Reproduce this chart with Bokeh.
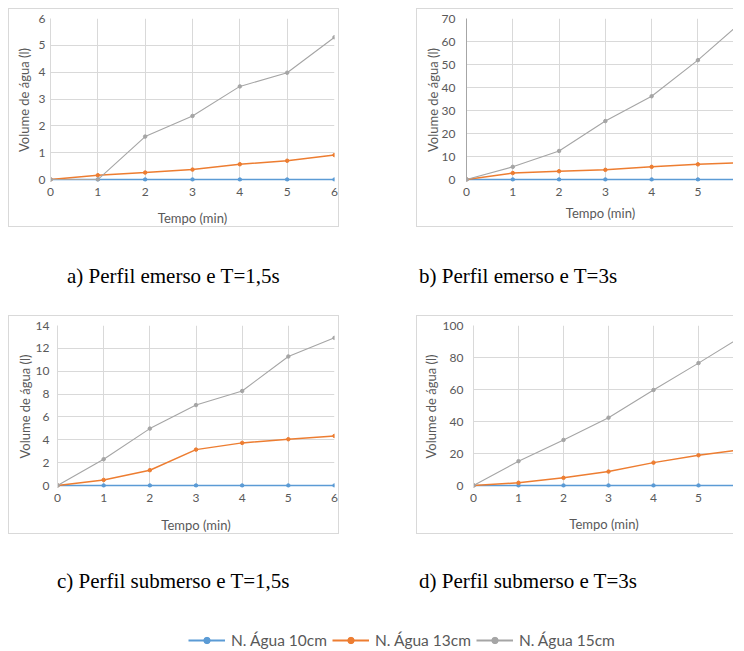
from bokeh.plotting import figure
from bokeh.layouts import column, row
from bokeh.models import Range1d, FixedTicker, Div, Spacer, Legend, LegendItem
from bokeh.embed import file_html
from bokeh.resources import INLINE

# ---------------- data ----------------
tempo = [0, 1, 2, 3, 4, 5, 6]
series_names = ["N. Água 10cm", "N. Água 13cm", "N. Água 15cm"]
series_colors = ["#5B9BD5", "#ED7D31", "#A5A5A5"]
series_widths = [1.5, 1.5, 1.1]

a_10 = [0, 0, 0, 0, 0, 0, 0]
a_13 = [0, 0.16, 0.26, 0.37, 0.57, 0.70, 0.91]
a_15 = [0, 0.0, 1.60, 2.37, 3.47, 3.98, 5.30]

b_10 = [0, 0, 0, 0, 0, 0, 0]
b_13 = [0, 2.8, 3.6, 4.2, 5.5, 6.6, 7.4]
b_15 = [0, 5.5, 12.4, 25.4, 36.2, 51.9, 69.5]

c_10 = [0, 0, 0, 0, 0, 0, 0]
c_13 = [0, 0.49, 1.34, 3.14, 3.73, 4.05, 4.34]
c_15 = [0, 2.30, 4.98, 7.04, 8.27, 11.29, 12.92]

d_10 = [0, 0, 0, 0, 0, 0, 0]
d_13 = [0, 1.7, 4.8, 8.7, 14.3, 18.9, 22.6]
d_15 = [0, 15.2, 28.5, 42.4, 59.7, 76.5, 93.8]

a_yticks = [0, 1, 2, 3, 4, 5, 6]
b_yticks = [0, 10, 20, 30, 40, 50, 60, 70]
c_yticks = [0, 2, 4, 6, 8, 10, 12, 14]
d_yticks = [0, 20, 40, 60, 80, 100]
x_ticks = [0, 1, 2, 3, 4, 5, 6]

captions = ["a) Perfil emerso e T=1,5s", "b) Perfil emerso e T=3s",
            "c) Perfil submerso e T=1,5s", "d) Perfil submerso e T=3s"]
x_title = "Tempo (min)"
y_title = "Volume de água (l)"

TXT = "#595959"
GRID = "#D9D9D9"
FONT = "Lato"
H = 219  # inner height (plus 1px border top and bottom = 221)


def panel(ys, yticks, width, x_end, left, right, top, bottom,
          lab_so, title_so, x_title_so, yaxis_color=GRID, right_border=True):
    y_end = yticks[-1]
    frame_h = H - top - bottom
    pad = 2.0 * y_end / (frame_h - 2)
    styles = {"border": "1px solid #D9D9D9"}
    if not right_border:
        styles["border-right"] = "none"
    p = figure(width=width, height=H, output_backend="svg", toolbar_location=None,
               x_range=Range1d(0, x_end), y_range=Range1d(-pad, y_end),
               min_border_left=left, min_border_right=right,
               min_border_top=top, min_border_bottom=bottom,
               styles=styles, margin=0)
    p.outline_line_color = None
    p.background_fill_color = "white"
    p.border_fill_color = "white"
    p.xaxis.ticker = FixedTicker(ticks=x_ticks)
    p.yaxis.ticker = FixedTicker(ticks=yticks)
    p.xgrid.ticker = FixedTicker(ticks=x_ticks)
    p.ygrid.ticker = FixedTicker(ticks=yticks)
    p.xgrid.grid_line_color = GRID
    p.ygrid.grid_line_color = GRID
    for ax in (p.xaxis[0], p.yaxis[0]):
        ax.major_tick_line_color = None
        ax.minor_tick_line_color = None
        ax.major_tick_out = 0
        ax.major_tick_in = 0
        ax.major_label_text_font = FONT
        ax.major_label_text_font_size = "12px"
        ax.major_label_text_color = TXT
        ax.major_label_text_line_height = 1.0
        ax.axis_label_text_font = FONT
        ax.axis_label_text_font_size = "13px"
        ax.axis_label_text_color = TXT
        ax.axis_label_text_font_style = "normal"
        ax.axis_label_text_line_height = 1.0
    p.xaxis.axis_line_color = None
    p.yaxis.axis_line_color = yaxis_color
    p.xaxis.axis_label = x_title
    p.yaxis.axis_label = y_title
    p.yaxis.major_label_standoff = lab_so
    p.yaxis.axis_label_standoff = title_so
    p.xaxis.major_label_standoff = 6
    p.xaxis.axis_label_standoff = x_title_so
    for y, col, lw in zip(ys, series_colors, series_widths):
        p.line(tempo, y, line_color=col, line_width=lw)
        p.scatter(tempo, y, size=3.5, fill_color=col, line_color=col)
    return p


pa = panel([a_10, a_13, a_15], a_yticks, 331, 6, 41, 6, 6, 47, 5, 4, 11)
pb = panel([b_10, b_13, b_15], b_yticks, 317, 5.79, 49, 0, 9, 47, 11, -2, 6,
           yaxis_color="#A6A6A6", right_border=False)
pc = panel([c_10, c_13, c_15], c_yticks, 331, 6, 48, 6, 9, 47, 8, 0, 12)
pd = panel([d_10, d_13, d_15], d_yticks, 317, 5.8, 56, 0, 9, 47, 10, 1, 11,
           right_border=False)


def caption(txt, width, height, pl, pt):
    html = ('<div style="padding-left:%dpx;padding-top:%dpx;'
            'font-family:\'Liberation Serif\',\'Times New Roman\',serif;'
            'font-size:21px;line-height:24px;'
            'color:#000;white-space:nowrap">%s</div>' % (pl, pt, txt))
    return Div(text=html, width=width, height=height, margin=0)


cap_row1 = row(caption(captions[0], 410, 86, 59, 35),
               caption(captions[1], 318, 86, 1, 35))
cap_row2 = row(caption(captions[2], 410, 85, 49, 33),
               caption(captions[3], 318, 85, 1, 33))

# legend-only figure (its renderers sit outside the visible ranges; only the
# legend entries are seen)
leg = figure(width=548, height=28, output_backend="svg", toolbar_location=None,
             x_range=Range1d(-3, -2), y_range=Range1d(-3, -2),
             min_border=0, margin=0)
leg.axis.visible = False
leg.grid.visible = False
leg.outline_line_color = None
items = []
for name, col, ys in zip(series_names, series_colors, [a_10, a_13, a_15]):
    r1 = leg.line(tempo, ys, line_color=col, line_width=2)
    r2 = leg.scatter(tempo, ys, size=6, fill_color=col, line_color=col)
    items.append(LegendItem(label=name, renderers=[r1, r2]))
legend = Legend(items=items, orientation="horizontal", location="bottom_left",
                padding=0, margin=0, spacing=5, label_standoff=6,
                glyph_width=37, glyph_height=16, label_height=16,
                label_text_font=FONT, label_text_font_size="15.5px",
                label_text_color=TXT, border_line_color=None,
                background_fill_alpha=0)
leg.add_layout(legend)

layout = column(
    row(pa, Spacer(width=77, height=221, margin=0), pb, margin=0),
    cap_row1,
    row(pc, Spacer(width=77, height=221, margin=0), pd, margin=0),
    cap_row2,
    row(Spacer(width=180, height=28, margin=0), leg, margin=0),
    margin=(8, 0, 0, 8),
)

open("out.html", "w").write(file_html(layout, INLINE))
